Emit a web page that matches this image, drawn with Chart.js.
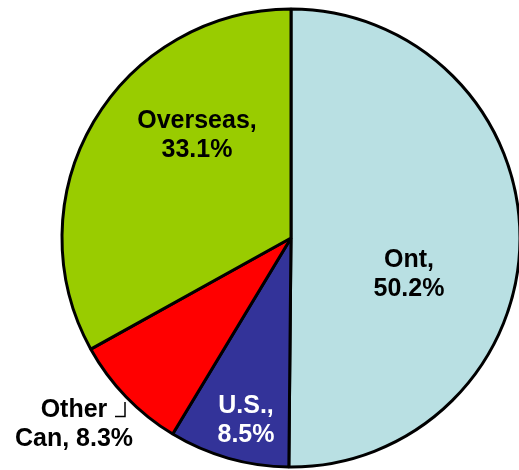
<!DOCTYPE html>
<html>
<head>
<meta charset="utf-8">
<script src="https://cdn.jsdelivr.net/npm/chart.js@4/dist/chart.umd.min.js"></script>
<style>
  html, body { margin: 0; padding: 0; background: #fff; }
  #wrap { width: 519px; height: 470px; }
</style>
</head>
<body>
<div id="wrap"><canvas id="myChart" width="519" height="470"></canvas></div>
<script>
// values (share of total, %)
var categories = ['Ont', 'U.S.', 'Other Can', 'Overseas'];
var shares = [50.2, 8.5, 8.3, 33.1];
var colors = ['#B9E0E3', '#333399', '#FF0000', '#99CC00'];
var textColors = ['#000', '#fff', '#000', '#000'];

// where each two-line label sits: centre x, first baseline y
var labelPos = [
    [409, 267],
    [246, 413],
    [74, 417],
    [197, 128]
];

function labelLines(i) {
    var words = categories[i].split(' ');
    if (words.length > 1) {
        return [words[0], words.slice(1).join(' ') + ', ' + shares[i] + '%'];
    }
    return [categories[i] + ',', shares[i] + '%'];
}

var sliceLabels = {
    id: 'sliceLabels',
    afterDatasetsDraw: function(chart) {
        var ctx = chart.ctx;
        ctx.save();
        ctx.font = 'bold 25px "Liberation Sans", Arial, sans-serif';
        ctx.textAlign = 'center';
        ctx.textBaseline = 'alphabetic';
        categories.forEach(function(c, i) {
            var lines = labelLines(i);
            ctx.fillStyle = textColors[i];
            ctx.fillText(lines[0], labelPos[i][0], labelPos[i][1]);
            ctx.fillText(lines[1], labelPos[i][0], labelPos[i][1] + 29);
        });
        // small leader bracket next to "Other"
        ctx.strokeStyle = '#000';
        ctx.lineWidth = 1.5;
        ctx.beginPath();
        ctx.moveTo(115, 416.5);
        ctx.lineTo(125, 416.5);
        ctx.lineTo(125, 402);
        ctx.stroke();
        ctx.restore();
    }
};

var ctx = document.getElementById('myChart').getContext('2d');
var myChart = new Chart(ctx, {
    type: 'pie',
    data: {
        labels: categories,
        datasets: [{
            data: shares,
            backgroundColor: colors,
            borderColor: '#000',
            borderWidth: 3,
            hoverOffset: 0
        }]
    },
    options: {
        responsive: false,
        animation: false,
        radius: 229,
        layout: {
            padding: { left: 63, right: 0, top: 6, bottom: 0 }
        },
        plugins: {
            legend: { display: false },
            tooltip: { enabled: false }
        }
    },
    plugins: [sliceLabels]
});
</script>
</body>
</html>
